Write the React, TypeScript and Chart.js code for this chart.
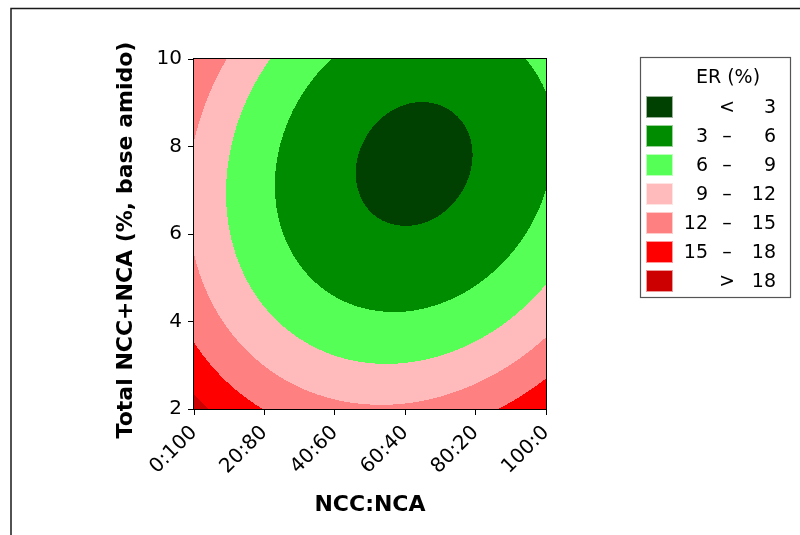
import React, { useEffect, useRef } from "react";
import { Chart, registerables } from "chart.js";

Chart.register(...registerables);

// Axis ticks
const ratioPositions = [0, 20, 40, 60, 80, 100];
const ratioLabels = ["0:100", "20:80", "40:60", "60:40", "80:20", "100:0"];
const totalTicks = [2, 4, 6, 8, 10];

const gridX = [0, 10, 20, 30, 40, 50, 60, 70, 80, 90, 100];
const gridY = [2, 3, 4, 5, 6, 7, 8, 9, 10];

const erAtY2 = [19.01, 16.73, 14.92, 13.59, 12.74, 12.36, 12.45, 13.03, 14.08, 15.6, 17.6];
const erAtY3 = [16.21, 13.84, 11.95, 10.54, 9.6, 9.14, 9.16, 9.65, 10.62, 12.06, 13.98];
const erAtY4 = [14.05, 11.6, 9.63, 8.14, 7.12, 6.58, 6.51, 6.93, 7.81, 9.17, 11.01];
const erAtY5 = [12.54, 10.01, 7.96, 6.39, 5.29, 4.67, 4.52, 4.85, 5.66, 6.94, 8.69];
const erAtY6 = [11.68, 9.07, 6.94, 5.29, 4.11, 3.4, 3.18, 3.42, 4.15, 5.35, 7.03];
const erAtY7 = [11.47, 8.78, 6.57, 4.83, 3.57, 2.79, 2.48, 2.65, 3.29, 4.41, 6.01];
const erAtY8 = [11.91, 9.14, 6.85, 5.03, 3.69, 2.83, 2.44, 2.52, 3.08, 4.12, 5.64];
const erAtY9 = [13.0, 10.15, 7.78, 5.88, 4.46, 3.51, 3.04, 3.05, 3.53, 4.49, 5.84];
const erAtY10 = [14.74, 11.81, 9.36, 7.38, 5.87, 4.85, 4.3, 4.22, 4.62, 5.5, 6.8];

const erRows = [erAtY2, erAtY3, erAtY4, erAtY5, erAtY6, erAtY7, erAtY8, erAtY9, erAtY10];

// Contour classes
const erBreaks = [3, 6, 9, 12, 15, 18];
const erColors = ["#004000", "#008c00", "#55ff55", "#ffbbbb", "#ff8080", "#ff0000", "#cc0000"];
const legendLow = ["", "3", "6", "9", "12", "15", ""];
const legendSep = ["<", "\u2013", "\u2013", "\u2013", "\u2013", "\u2013", ">"];
const legendHigh = ["3", "6", "9", "12", "15", "18", "18"];

const FONT = "'DejaVu Sans', sans-serif";

function extend(arr: number[]): number[] {
  const n = arr.length;
  return [3 * arr[0] - 3 * arr[1] + arr[2], ...arr, 3 * arr[n - 1] - 3 * arr[n - 2] + arr[n - 3]];
}

function buildExtended(): number[][] {
  const rows = erRows.map(extend);
  const n = rows.length;
  const cols = rows[0].length;
  const first: number[] = [];
  const last: number[] = [];
  for (let c = 0; c < cols; c++) {
    first.push(3 * rows[0][c] - 3 * rows[1][c] + rows[2][c]);
    last.push(3 * rows[n - 1][c] - 3 * rows[n - 2][c] + rows[n - 3][c]);
  }
  return [first, ...rows, last];
}

function cr(p0: number, p1: number, p2: number, p3: number, t: number): number {
  return 0.5 * (2 * p1 + (-p0 + p2) * t + (2 * p0 - 5 * p1 + 4 * p2 - p3) * t * t + (-p0 + 3 * p1 - 3 * p2 + p3) * t * t * t);
}

function hexToRgb(h: string): [number, number, number] {
  const v = parseInt(h.slice(1), 16);
  return [(v >> 16) & 255, (v >> 8) & 255, v & 255];
}

const contourPlugin = {
  id: "contourPlugin",
  beforeDraw(chart: any) {
    const { ctx, chartArea, scales } = chart;
    ctx.save();
    ctx.fillStyle = "#ffffff";
    ctx.fillRect(0, 0, chart.width, chart.height);
    // outer frame
    ctx.strokeStyle = "#1a1a1a";
    ctx.lineWidth = 1.5;
    ctx.strokeRect(11, 8.5, chart.width + 20, chart.height + 20);

    const ext = buildExtended();
    const nx = gridX.length;
    const ny = gridY.length;
    const dx = gridX[1] - gridX[0];
    const dy = gridY[1] - gridY[0];
    const left = Math.round(chartArea.left);
    const top = Math.round(chartArea.top);
    const W = Math.round(chartArea.right) - left;
    const H = Math.round(chartArea.bottom) - top;
    const off = document.createElement("canvas");
    off.width = W;
    off.height = H;
    const octx = off.getContext("2d") as CanvasRenderingContext2D;
    const img = octx.createImageData(W, H);
    const rgb = erColors.map(hexToRgb);
    const xs = scales.x;
    const ys = scales.y;
    const colVals: number[] = [];
    const colI: number[] = [];
    const colT: number[] = [];
    for (let px = 0; px < W; px++) {
      const xv = xs.getValueForPixel(left + px + 0.5);
      const fx = (xv - gridX[0]) / dx;
      let i = Math.floor(fx);
      if (i < 0) i = 0;
      if (i > nx - 2) i = nx - 2;
      colVals.push(xv);
      colI.push(i);
      colT.push(fx - i);
    }
    for (let py = 0; py < H; py++) {
      const yv = ys.getValueForPixel(top + py + 0.5);
      const fy = (yv - gridY[0]) / dy;
      let j = Math.floor(fy);
      if (j < 0) j = 0;
      if (j > ny - 2) j = ny - 2;
      const u = fy - j;
      for (let px = 0; px < W; px++) {
        const i = colI[px];
        const t = colT[px];
        const r: number[] = [];
        for (let k = 0; k < 4; k++) {
          const row = ext[j + k];
          r.push(cr(row[i], row[i + 1], row[i + 2], row[i + 3], t));
        }
        const v = cr(r[0], r[1], r[2], r[3], u);
        let cls = 0;
        for (const b of erBreaks) if (v >= b) cls++;
        const c = rgb[cls];
        const o = (py * W + px) * 4;
        img.data[o] = c[0];
        img.data[o + 1] = c[1];
        img.data[o + 2] = c[2];
        img.data[o + 3] = 255;
      }
    }
    octx.putImageData(img, 0, 0);
    ctx.drawImage(off, left, top);
    ctx.restore();
  },
  afterDraw(chart: any) {
    const { ctx, chartArea } = chart;
    ctx.save();
    // plot frame
    ctx.strokeStyle = "#000";
    ctx.lineWidth = 1;
    ctx.strokeRect(
      Math.round(chartArea.left) - 0.5,
      Math.round(chartArea.top) - 0.5,
      Math.round(chartArea.right) - Math.round(chartArea.left) + 1,
      Math.round(chartArea.bottom) - Math.round(chartArea.top) + 1
    );

    // y axis title
    ctx.save();
    ctx.translate(126, 240);
    ctx.rotate(-Math.PI / 2);
    ctx.fillStyle = "#000";
    ctx.font = `bold 22px ${FONT}`;
    ctx.textAlign = "center";
    ctx.textBaseline = "middle";
    ctx.fillText("Total NCC+NCA (%, base amido)", 0, 0);
    ctx.restore();

    // legend
    ctx.strokeStyle = "#555";
    ctx.lineWidth = 1.2;
    ctx.strokeRect(640.5, 57.5, 150, 240);
    ctx.fillStyle = "#000";
    ctx.font = `19px ${FONT}`;
    ctx.textBaseline = "middle";
    ctx.textAlign = "center";
    ctx.fillText("ER (%)", 728, 78);
    for (let i = 0; i < erColors.length; i++) {
      const yTop = 96 + i * 29;
      ctx.fillStyle = erColors[i];
      ctx.fillRect(646, yTop, 27, 22);
      ctx.strokeStyle = "rgba(255,255,255,0.6)";
      ctx.lineWidth = 1;
      ctx.strokeRect(646.5, yTop + 0.5, 26, 21);
      ctx.fillStyle = "#000";
      const ym = yTop + 12;
      ctx.textAlign = "right";
      if (legendLow[i]) ctx.fillText(legendLow[i], 708, ym);
      ctx.textAlign = "center";
      ctx.fillText(legendSep[i], 727, ym);
      ctx.textAlign = "right";
      ctx.fillText(legendHigh[i], 776, ym);
    }
    ctx.restore();
  },
};

export default function App() {
  const ref = useRef<HTMLCanvasElement | null>(null);
  useEffect(() => {
    if (!ref.current) return;
    const chart = new Chart(ref.current, {
      type: "scatter",
      data: { datasets: [] },
      options: {
        responsive: false,
        animation: false,
        events: [],
        layout: { padding: { left: 0, right: 254, top: 59, bottom: 0 } },
        plugins: {
          legend: { display: false },
          tooltip: { enabled: false },
        },
        scales: {
          x: {
            type: "linear",
            min: 0,
            max: 100,
            afterBuildTicks: (s: any) => {
              s.ticks = ratioPositions.map((v) => ({ value: v }));
            },
            afterFit: (s: any) => {
              s.height = 126;
            },
            ticks: {
              autoSkip: false,
              minRotation: 45,
              maxRotation: 45,
              padding: 6,
              color: "#000",
              font: { family: FONT, size: 20 },
              callback: (v: any) => {
                const k = ratioPositions.indexOf(Number(v));
                return k >= 0 ? ratioLabels[k] : "";
              },
            },
            grid: { display: true, drawOnChartArea: false, drawTicks: true, tickLength: 6, tickColor: "#000", tickWidth: 1 },
            border: { display: false },
            title: {
              display: true,
              text: "NCC:NCA",
              color: "#000",
              font: { family: FONT, size: 22, weight: "bold" },
              padding: { top: 0, bottom: 17 },
            },
          },
          y: {
            type: "linear",
            min: 2,
            max: 10,
            afterBuildTicks: (s: any) => {
              s.ticks = totalTicks.map((v) => ({ value: v }));
            },
            afterFit: (s: any) => {
              s.width = 194;
            },
            ticks: {
              padding: 6,
              color: "#000",
              font: { family: FONT, size: 20 },
            },
            grid: { display: true, drawOnChartArea: false, drawTicks: true, tickLength: 6, tickColor: "#000", tickWidth: 1 },
            border: { display: false },
          },
        },
      } as any,
      plugins: [contourPlugin],
    });
    return () => chart.destroy();
  }, []);
  return (
    <div style={{ position: "fixed", left: 0, top: 0, width: 800, height: 535, background: "#fff" }}>
      <canvas ref={ref} width={800} height={535} style={{ display: "block" }} />
    </div>
  );
}
